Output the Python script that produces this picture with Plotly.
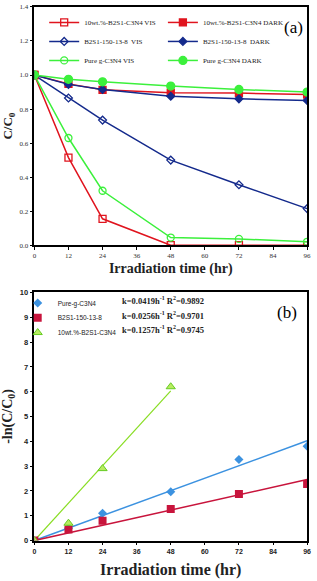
import plotly.graph_objects as go

W, H = 317, 581
t = [0, 12, 24, 48, 72, 96]

# Panel (a) C/C0
wt_vis = [1.0, 0.515, 0.155, 0.0, 0.0, 0.0]
wt_dark = [1.0, 0.948, 0.913, 0.896, 0.894, 0.885]
b2_vis = [1.0, 0.865, 0.735, 0.5, 0.355, 0.215]
b2_dark = [1.0, 0.945, 0.915, 0.875, 0.86, 0.85]
g_vis = [1.0, 0.63, 0.32, 0.045, 0.037, 0.02]
g_dark = [1.0, 0.975, 0.96, 0.935, 0.915, 0.9]

# Panel (b) -ln(C/C0)
t_wt = [0, 12, 24, 48]
ln_g = [0.0, 0.5, 1.1, 1.97, 3.27, 3.8]
ln_b2 = [0.0, 0.45, 0.8, 1.27, 1.88, 2.28]
ln_wt = [0.0, 0.7, 2.9, 6.2]
k_g, r2_g = 0.0419, 0.9892
k_b2, r2_b2 = 0.0256, 0.9701
k_wt, r2_wt = 0.1257, 0.9745

xticks = [0, 12, 24, 36, 48, 60, 72, 84, 96]

RED = "#e0141e"
NAVY = "#142a8c"
GREEN = "#3cf03c"
LBLUE = "#3c92e0"
CRIM = "#c8143c"
LGREEN = "#88dd22"

SERIF = "Liberation Serif"
SANS = "Liberation Sans"

fig = go.Figure()

def add_a(y, name, color, symbol, legend, size=7):
    fig.add_trace(go.Scatter(
        x=t, y=y, name=name, mode="lines+markers",
        line=dict(color=color, width=1.5),
        marker=dict(symbol=symbol, size=size, color=color,
                    line=dict(color=color, width=1.3)),
        xaxis="x", yaxis="y", legend=legend))

add_a(wt_vis, "10wt.%-B2S1-C3N4 VIS", RED, "square-open", "legend", 7)
add_a(b2_vis, "B2S1-150-13-8  VIS", NAVY, "diamond-open", "legend", 6)
add_a(g_vis, "Pure g-C3N4 VIS", GREEN, "circle-open", "legend", 7)
add_a(wt_dark, "10wt.%-B2S1-C3N4 DARK", RED, "square", "legend2", 7)
add_a(b2_dark, "B2S1-150-13-8  DARK", NAVY, "diamond", "legend2", 6)
add_a(g_dark, "Pure g-C3N4 DARK", GREEN, "circle", "legend2", 8)

# Panel (b) fit lines from k
xg = [0, 96]
fig.add_trace(go.Scatter(x=xg, y=[k_g * v for v in xg], mode="lines",
                         line=dict(color=LBLUE, width=1.5), showlegend=False,
                         xaxis="x2", yaxis="y2"))
fig.add_trace(go.Scatter(x=xg, y=[k_b2 * v for v in xg], mode="lines",
                         line=dict(color=CRIM, width=1.5), showlegend=False,
                         xaxis="x2", yaxis="y2"))
xw = [0, 48]
fig.add_trace(go.Scatter(x=xw, y=[k_wt * v for v in xw], mode="lines",
                         line=dict(color=LGREEN, width=1.2), showlegend=False,
                         xaxis="x2", yaxis="y2"))

fig.add_trace(go.Scatter(x=t, y=ln_g, name="Pure-g-C3N4", mode="markers",
                         marker=dict(symbol="diamond", size=7, color=LBLUE),
                         xaxis="x2", yaxis="y2", legend="legend3"))
fig.add_trace(go.Scatter(x=t, y=ln_b2, name="B2S1-150-13-8", mode="markers",
                         marker=dict(symbol="square", size=8, color=CRIM),
                         xaxis="x2", yaxis="y2", legend="legend4"))
fig.add_trace(go.Scatter(x=t_wt, y=ln_wt, name="10wt.%-B2S1-C3N4", mode="markers",
                         marker=dict(symbol="triangle-up", size=8, color="#b8ec60",
                                     line=dict(color="#66cc22", width=1)),
                         xaxis="x2", yaxis="y2", legend="legend5"))

def py(px):
    return 1 - px / H

xdom = [33 / W, 311 / W]
axis_common = dict(showline=True, linecolor="black", linewidth=1.5, mirror=True,
                   showgrid=False, zeroline=False, ticks="outside", ticklen=3,
                   tickcolor="black")

def leg(xpx, ypx, family, size):
    return dict(x=xpx / W, y=py(ypx), xanchor="left", yanchor="top",
                bgcolor="rgba(0,0,0,0)", itemwidth=30, tracegroupgap=0,
                font=dict(family=family, size=size, color="#222"))

fig.update_layout(
    width=W, height=H, margin=dict(l=0, r=0, t=0, b=0),
    paper_bgcolor="white", plot_bgcolor="white",
    xaxis=dict(domain=xdom, range=[0, 96], tickvals=xticks, anchor="y",
               tickfont=dict(family=SERIF, size=7, color="#333"),
               title=dict(text="<b>Irradiation time (hr)</b>", standoff=4,
                          font=dict(family=SERIF, size=14, color="#222")),
               **axis_common),
    yaxis=dict(domain=[py(245), py(3)], range=[0, 1.4], dtick=0.2, tickformat=".1f",
               anchor="x",
               tickfont=dict(family=SERIF, size=7, color="#333"),
               title=dict(text="<b>C/C<sub>0</sub></b>", standoff=6,
                          font=dict(family=SERIF, size=13, color="#222")),
               **axis_common),
    xaxis2=dict(domain=xdom, range=[0, 96], tickvals=xticks, anchor="y2",
                tickfont=dict(family=SANS, size=7, color="#222", weight="bold"),
                title=dict(text="<b>Irradiation time (hr)</b>", standoff=10,
                           font=dict(family=SERIF, size=16, color="#222")),
                **axis_common),
    yaxis2=dict(domain=[py(545), py(293)], range=[0, 10], dtick=1, anchor="x2",
                tickfont=dict(family=SANS, size=7.5, color="#222", weight="bold"),
                title=dict(text="<b>-ln(C/C<sub>0</sub>)</b>", standoff=8,
                           font=dict(family=SERIF, size=14, color="#222")),
                **axis_common),
    legend=leg(43, 4, SERIF, 7),
    legend2=leg(164, 4, SERIF, 7),
    legend3=leg(16, 289, SANS, 6.5),
    legend4=leg(16, 304, SANS, 6.5),
    legend5=leg(16, 319, SANS, 6.5),
    showlegend=True,
)

fig.add_annotation(text="(a)", x=297 / W, y=py(24), xref="paper", yref="paper",
                   xanchor="center", yanchor="middle",
                   showarrow=False, font=dict(family=SERIF, size=17, color="black"))
fig.add_annotation(text="(b)", x=291 / W, y=py(313), xref="paper", yref="paper",
                   xanchor="center", yanchor="middle",
                   showarrow=False, font=dict(family=SERIF, size=17, color="black"))

rows = [(k_g, r2_g, 301), (k_b2, r2_b2, 316), (k_wt, r2_wt, 331)]
for k, r2, ypx in rows:
    fig.add_annotation(
        text=f"<b>k={k:.4f}h<sup>-1</sup> R<sup>2</sup>={r2:.4f}</b>",
        x=208 / W, y=py(ypx), xref="paper", yref="paper", xanchor="right",
        yanchor="middle",
        showarrow=False, font=dict(family=SERIF, size=8.5, color="#222"))

fig.write_html("out.html", config={"displayModeBar": False},
               post_script="document.body.style.margin='0';document.body.style.padding='0';")
